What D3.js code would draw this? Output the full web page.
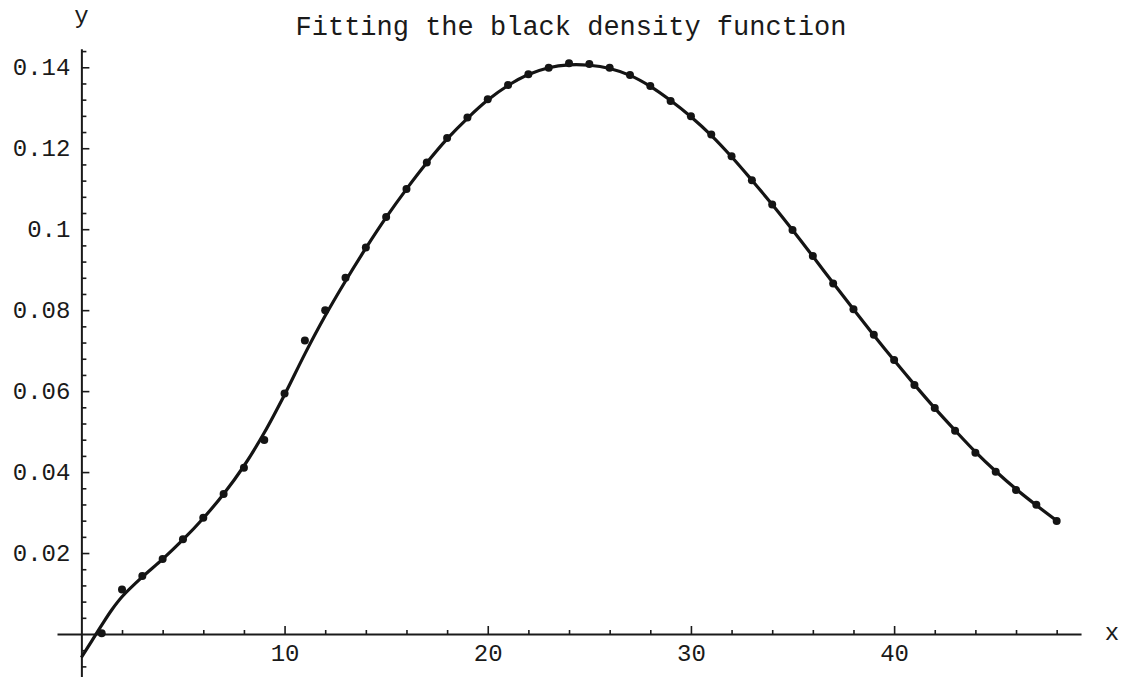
<!DOCTYPE html>
<html>
<head>
<meta charset="utf-8">
<script src="https://cdn.jsdelivr.net/npm/d3@7"></script>
<style>
  html, body { margin: 0; padding: 0; background: #fff; }
  svg { display: block; }
  text { font-family: "Liberation Mono", "DejaVu Sans Mono", monospace; fill: #1a1a1a; }
</style>
</head>
<body>
<svg id="chart" width="1122" height="677"></svg>
<script>
// Observed density values at x = 1 .. 48
const sampleX = d3.range(1, 49);
const sampleY = [
  0.0002, 0.0110, 0.0143, 0.0185, 0.0234, 0.0287, 0.0346, 0.0411, 0.0479, 0.0594,
  0.0725, 0.0800, 0.0880, 0.0955, 0.1030, 0.1099, 0.1165, 0.1225, 0.1276, 0.1321,
  0.1356, 0.1383, 0.1399, 0.1410, 0.1408, 0.1399, 0.1381, 0.1354, 0.1317, 0.1279,
  0.1234, 0.1180, 0.1121, 0.1061, 0.0998, 0.0934, 0.0866, 0.0802, 0.0739, 0.0677,
  0.0615, 0.0558, 0.0502, 0.0448, 0.0401, 0.0356, 0.0319, 0.0279
];

// Fitted density curve, sampled along x
const fitX = [0, 0.5, 1, 1.5, 2, 3, 4, 5, 6, 7, 8, 9, 10, 11, 12, 13, 14, 15, 16, 17, 18, 19, 20,
  21, 22, 23, 24, 25, 26, 27, 28, 29, 30, 31, 32, 33, 34, 35, 36, 37, 38, 39, 40,
  41, 42, 43, 44, 45, 46, 47, 48];
const fitY = [
  -0.0058, -0.0018, 0.0022, 0.0060, 0.0092, 0.0141, 0.0185, 0.0233, 0.0286, 0.0346, 0.0415,
  0.0497, 0.0591, 0.0692, 0.0786, 0.0872, 0.0953, 0.1029, 0.1099, 0.1164, 0.1223,
  0.1274, 0.1319, 0.1355, 0.1382, 0.1399, 0.1406, 0.1405, 0.1397, 0.1380, 0.1353,
  0.1318, 0.1278, 0.1232, 0.1179, 0.1121, 0.1061, 0.0998, 0.0933, 0.0867, 0.0802,
  0.0738, 0.0676, 0.0616, 0.0558, 0.0503, 0.0450, 0.0402, 0.0358, 0.0318, 0.0280
];

// Axis ticks
const xTicks = [10, 20, 30, 40];
const xMinorTicks = [2, 4, 6, 8, 12, 14, 16, 18, 22, 24, 26, 28, 32, 34, 36, 38, 42, 44, 46, 48];
const yTicks = [0.02, 0.04, 0.06, 0.08, 0.1, 0.12, 0.14];
const yMinorTicks = [-0.008, -0.004, 0.004, 0.008, 0.012, 0.016, 0.024, 0.028, 0.032, 0.036,
  0.044, 0.048, 0.052, 0.056, 0.064, 0.068, 0.072, 0.076, 0.084, 0.088, 0.092, 0.096,
  0.104, 0.108, 0.112, 0.116, 0.124, 0.128, 0.132, 0.136, 0.144];

const titleText = "Fitting the black density function";
const xLabel = "x";
const yLabel = "y";

const svg = d3.select("#chart");

const x = d3.scaleLinear().domain([-1.2, 49.2]).range([57, 81.3 + 49.2 * 20.32]);
const y = d3.scaleLinear().domain([-0.0107, 0.1446]).range([634 + 0.0107 * 4048, 634 - 0.1446 * 4048]);

const x0 = x(0), y0 = y(0);

// y axis (ticks point inward, to the right)
const yAxis = svg.append("g").attr("transform", `translate(${x0},0)`)
  .call(d3.axisLeft(y).tickValues(yTicks).tickSizeInner(-8).tickSizeOuter(0).tickPadding(11)
    .tickFormat(d => String(+d.toFixed(2))));
svg.append("g").attr("transform", `translate(${x0},0)`)
  .call(d3.axisLeft(y).tickValues(yMinorTicks).tickSizeInner(-5).tickSizeOuter(0).tickFormat(""))
  .call(g => g.select(".domain").remove());

// x axis (ticks point upward)
const xAxis = svg.append("g").attr("transform", `translate(0,${y0})`)
  .call(d3.axisBottom(x).tickValues(xTicks).tickSizeInner(-8).tickSizeOuter(0).tickPadding(10));
svg.append("g").attr("transform", `translate(0,${y0})`)
  .call(d3.axisBottom(x).tickValues(xMinorTicks).tickSizeInner(-4).tickSizeOuter(0).tickFormat(""))
  .call(g => g.select(".domain").remove());

svg.selectAll(".domain").attr("stroke", "#1a1a1a").attr("stroke-width", 2);
svg.selectAll(".tick line").attr("stroke", "#1a1a1a").attr("stroke-width", 1.6);
yAxis.selectAll(".tick text").attr("font-size", 24).attr("font-family", "Liberation Mono").attr("fill", "#1a1a1a");
xAxis.selectAll(".tick text").attr("font-size", 24).attr("font-family", "Liberation Mono").attr("fill", "#1a1a1a");

// Fitted curve
const fit = fitX.map((v, i) => [v, fitY[i]]);
svg.append("path")
  .datum(fit)
  .attr("fill", "none")
  .attr("stroke", "#141414")
  .attr("stroke-width", 3.2)
  .attr("stroke-linejoin", "round")
  .attr("d", d3.line().x(d => x(d[0])).y(d => y(d[1])).curve(d3.curveCatmullRom.alpha(0.5)));

// Observed points
svg.append("g")
  .selectAll("circle")
  .data(sampleX.map((v, i) => [v, sampleY[i]]))
  .join("circle")
  .attr("cx", d => x(d[0]))
  .attr("cy", d => y(d[1]))
  .attr("r", 4)
  .attr("fill", "#141414");

// Title and axis labels
svg.append("text")
  .attr("x", 571).attr("y", 35)
  .attr("text-anchor", "middle")
  .attr("font-size", 27)
  .text(titleText);

svg.append("text")
  .attr("x", x0).attr("y", 23)
  .attr("text-anchor", "middle")
  .attr("font-size", 24)
  .text(yLabel);

svg.append("text")
  .attr("x", 1112).attr("y", y0 + 6)
  .attr("text-anchor", "middle")
  .attr("font-size", 24)
  .text(xLabel);
</script>
</body>
</html>
